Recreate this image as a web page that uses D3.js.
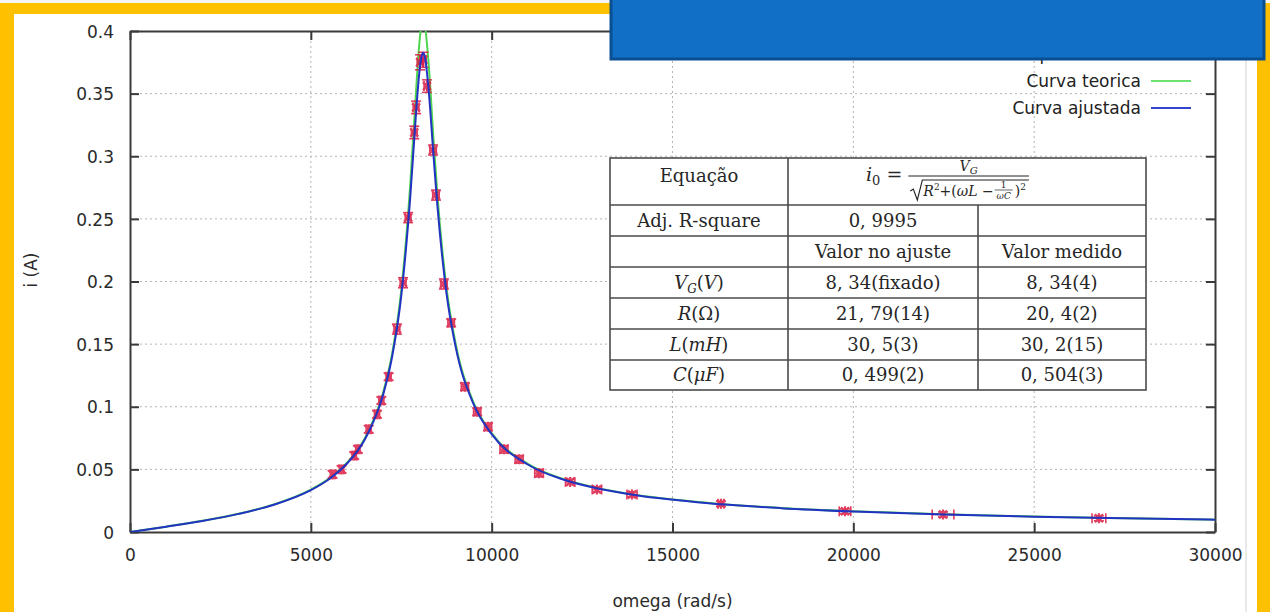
<!DOCTYPE html>
<html>
<head>
<meta charset="utf-8">
<script src="https://cdn.jsdelivr.net/npm/d3@7"></script>
<style>
	body { margin: 0; background: #ffffff; }
	svg { display: block; }
</style>
</head>
<body>
<div id="chart-area"></div>
<script>
// experimental points (omega in rad/s, current in A)
var omegaExp = [5600, 5850, 6200, 6300, 6600, 6830, 6950, 7150, 7380, 7550, 7690, 7860, 7910, 8020, 8110, 8210, 8380, 8460, 8680, 8880, 9260, 9600, 9900, 10340, 10760, 11310, 12170, 12910, 13880, 16340, 19770, 22480, 26790];
var iExp = [0.046, 0.050, 0.061, 0.066, 0.082, 0.094, 0.105, 0.124, 0.162, 0.199, 0.251, 0.319, 0.339, 0.375, 0.377, 0.356, 0.305, 0.269, 0.198, 0.167, 0.116, 0.096, 0.084, 0.066, 0.058, 0.047, 0.040, 0.034, 0.030, 0.0225, 0.0165, 0.014, 0.011];
var omegaErr = [60, 60, 60, 60, 70, 70, 70, 70, 80, 80, 80, 80, 80, 80, 80, 80, 90, 90, 90, 90, 100, 100, 100, 110, 110, 120, 130, 130, 140, 80, 160, 300, 190];
var iErr = [0.003, 0.003, 0.003, 0.003, 0.003, 0.003, 0.003, 0.003, 0.004, 0.004, 0.004, 0.005, 0.005, 0.006, 0.006, 0.005, 0.004, 0.004, 0.004, 0.003, 0.003, 0.003, 0.003, 0.003, 0.003, 0.003, 0.002, 0.002, 0.002, 0.002, 0.002, 0.002, 0.002];

// curves
var omegaCurve = [0, 250, 1000, 2000, 3000, 4000, 5000, 5500, 6000, 6500, 7000, 7250, 7500, 7750, 7900, 8000, 8050, 8100, 8150, 8250, 8400, 8500, 8750, 9000, 9500, 10000, 11000, 12000, 13000, 14000, 16000, 18000, 20000, 22500, 25000, 27500, 30000];
var iTeorica = [0, 0.00105, 0.00427, 0.00895, 0.01461, 0.02219, 0.03382, 0.04262, 0.05527, 0.0753, 0.1115, 0.1428, 0.193, 0.278, 0.348, 0.390, 0.4033, 0.4088, 0.4053, 0.3765, 0.3104, 0.2693, 0.1953, 0.1511, 0.1033, 0.079, 0.05444, 0.04208, 0.03462, 0.0296, 0.02322, 0.01924, 0.01652, 0.0141, 0.01234, 0.011, 0.00993];
var iAjustada = [0, 0.00104, 0.00423, 0.00886, 0.01446, 0.02197, 0.03346, 0.04216, 0.05466, 0.0743, 0.1097, 0.1403, 0.1885, 0.268, 0.3306, 0.367, 0.378, 0.3827, 0.3798, 0.3554, 0.2975, 0.2604, 0.1908, 0.1484, 0.102, 0.0781, 0.0539, 0.04166, 0.03428, 0.0293, 0.02295, 0.01905, 0.01636, 0.01397, 0.01222, 0.01089, 0.00983];

var xTicks = [0, 5000, 10000, 15000, 20000, 25000, 30000];
var yTicks = [0, 0.05, 0.1, 0.15, 0.2, 0.25, 0.3, 0.35, 0.4];
var legendNames = ["Pontos experimentais", "Curva teorica", "Curva ajustada"];

// fit table
var tableHead = ["Equação", "Adj. R-square", ""];
var tableCols = ["", "Valor no ajuste", "Valor medido"];
var tableFit = ["0, 9995"];
var paramNames = [["V", "G", "V"], ["R", "", "Ω"], ["L", "", "mH"], ["C", "", "μF"]];
var paramAjuste = ["8, 34(fixado)", "21, 79(14)", "30, 5(3)", "0, 499(2)"];
var paramMedido = ["8, 34(4)", "20, 4(2)", "30, 2(15)", "0, 504(3)"];

var W = 1270, H = 612;
var margin = {top: 31, right: 55, bottom: 80, left: 130};
var width = 1215 - margin.left;
var height = 532 - margin.top;

var svg = d3.select("#chart-area")
	.append("svg")
		.attr("width", W)
		.attr("height", H)
		.style("font-family", "'DejaVu Sans', sans-serif");

svg.append("rect").attr("width", W).attr("height", H).attr("fill", "#ffffff");
// faint page edge on the right
svg.append("line")
	.attr("x1", 1246).attr("x2", 1246).attr("y1", 14).attr("y2", H)
	.attr("stroke", "#e2e2e2").attr("stroke-width", 1.5);

var g = svg.append("g")
	.attr("transform", "translate(" + margin.left + ", " + margin.top + ")");

var x = d3.scaleLinear().domain([0, 30000]).range([0, width]);
var y = d3.scaleLinear().domain([0, 0.4]).range([height, 0]);

// grid
g.append("g")
	.selectAll("line")
	.data(xTicks.slice(1, -1))
	.enter().append("line")
		.attr("x1", (d) => x(d)).attr("x2", (d) => x(d))
		.attr("y1", 0).attr("y2", height)
		.attr("stroke", "#b4b4b4").attr("stroke-width", 1)
		.attr("stroke-dasharray", "2,3");
g.append("g")
	.selectAll("line")
	.data(yTicks.slice(1, -1))
	.enter().append("line")
		.attr("x1", 0).attr("x2", width)
		.attr("y1", (d) => y(d)).attr("y2", (d) => y(d))
		.attr("stroke", "#b4b4b4").attr("stroke-width", 1)
		.attr("stroke-dasharray", "2,3");

// axes (ticks pointing inward, mirrored)
var bottomAxis = d3.axisBottom(x).tickValues(xTicks).tickFormat(d3.format("d")).tickSizeInner(-9).tickSizeOuter(0).tickPadding(17);
var leftAxis = d3.axisLeft(y).tickValues(yTicks).tickFormat((d) => d === 0 ? "0" : String(+d.toFixed(2))).tickSizeInner(-9).tickSizeOuter(0).tickPadding(16);
var topAxis = d3.axisTop(x).tickValues(xTicks).tickFormat("").tickSizeInner(-9).tickSizeOuter(0);
var rightAxis = d3.axisRight(y).tickValues(yTicks).tickFormat("").tickSizeInner(-9).tickSizeOuter(0);

g.append("g").attr("class", "bottom axis").attr("transform", "translate(0, " + height + ")").call(bottomAxis);
g.append("g").attr("class", "left axis").call(leftAxis);
g.append("g").attr("class", "top axis").call(topAxis);
g.append("g").attr("class", "right axis").attr("transform", "translate(" + width + ", 0)").call(rightAxis);

g.selectAll(".axis path").attr("stroke", "#3a3a3a").attr("stroke-width", 2);
g.selectAll(".axis line").attr("stroke", "#3a3a3a").attr("stroke-width", 2);
g.selectAll(".axis text").attr("font-size", "17px").attr("fill", "#2a2a2a").attr("font-family", "'DejaVu Sans', sans-serif");
g.selectAll(".left.axis text").attr("dy", "0.36em");

// axis labels
g.append("text")
	.attr("x", width / 2)
	.attr("y", height + 75)
	.attr("font-size", "17px")
	.attr("text-anchor", "middle")
	.attr("fill", "#2a2a2a")
	.text("omega (rad/s)");
g.append("text")
	.attr("x", -(270 - margin.top))
	.attr("y", -93)
	.attr("font-size", "17px")
	.attr("text-anchor", "middle")
	.attr("transform", "rotate(-90)")
	.attr("fill", "#2a2a2a")
	.text("i (A)");

// clip for curves
svg.append("clipPath").attr("id", "plotclip")
	.append("rect").attr("x", 0).attr("y", 0).attr("width", width).attr("height", height);

var plot = g.append("g").attr("clip-path", "url(#plotclip)");

var line = d3.line()
	.x((d, i) => x(omegaCurve[i]))
	.y((d) => y(d))
	.curve(d3.curveMonotoneX);

plot.append("path")
	.datum(iTeorica)
	.attr("d", line)
	.attr("fill", "none")
	.attr("stroke", "#4fd64f")
	.attr("stroke-width", 2);

// experimental points with error bars
var pts = plot.selectAll(".pt")
	.data(omegaExp.map((w, i) => ({w: w, i: iExp[i], ew: omegaErr[i], ei: iErr[i]})))
	.enter().append("g")
		.attr("class", "pt")
		.attr("stroke", "#dc1c44")
		.attr("stroke-width", 1.6)
		.attr("opacity", 0.85);

pts.append("line")
	.attr("x1", (d) => x(d.w)).attr("x2", (d) => x(d.w))
	.attr("y1", (d) => y(d.i - d.ei)).attr("y2", (d) => y(d.i + d.ei));
pts.append("line")
	.attr("x1", (d) => x(d.w) - 5).attr("x2", (d) => x(d.w) + 5)
	.attr("y1", (d) => y(d.i - d.ei)).attr("y2", (d) => y(d.i - d.ei));
pts.append("line")
	.attr("x1", (d) => x(d.w) - 5).attr("x2", (d) => x(d.w) + 5)
	.attr("y1", (d) => y(d.i + d.ei)).attr("y2", (d) => y(d.i + d.ei));
pts.append("line")
	.attr("x1", (d) => x(d.w - d.ew)).attr("x2", (d) => x(d.w + d.ew))
	.attr("y1", (d) => y(d.i)).attr("y2", (d) => y(d.i));
pts.append("line")
	.attr("x1", (d) => x(d.w - d.ew)).attr("x2", (d) => x(d.w - d.ew))
	.attr("y1", (d) => y(d.i) - 5).attr("y2", (d) => y(d.i) + 5);
pts.append("line")
	.attr("x1", (d) => x(d.w + d.ew)).attr("x2", (d) => x(d.w + d.ew))
	.attr("y1", (d) => y(d.i) - 5).attr("y2", (d) => y(d.i) + 5);
pts.append("path")
	.attr("d", (d) => {
		var cx = x(d.w), cy = y(d.i), r = 4;
		return "M" + (cx - r) + "," + (cy - r) + "L" + (cx + r) + "," + (cy + r) +
			"M" + (cx - r) + "," + (cy + r) + "L" + (cx + r) + "," + (cy - r) +
			"M" + cx + "," + (cy - r - 1) + "L" + cx + "," + (cy + r + 1);
	})
	.attr("stroke-width", 2.2);

plot.append("path")
	.datum(iAjustada)
	.attr("d", line)
	.attr("fill", "none")
	.attr("stroke", "#2233c4")
	.attr("stroke-width", 2);

// legend
var legend = g.append("g").attr("transform", "translate(" + (1141 - margin.left) + ", " + (54 - margin.top) + ")");
legend.selectAll("text")
	.data(legendNames)
	.enter().append("text")
		.attr("x", 0)
		.attr("y", (d, i) => i * 27)
		.attr("dy", "0.35em")
		.attr("text-anchor", "end")
		.attr("font-size", "17px")
		.attr("fill", "#222")
		.text((d) => d);
legend.append("line").attr("x1", 10).attr("x2", 50).attr("y1", 27).attr("y2", 27).attr("stroke", "#6ee06e").attr("stroke-width", 2);
legend.append("line").attr("x1", 10).attr("x2", 50).attr("y1", 54).attr("y2", 54).attr("stroke", "#3344cc").attr("stroke-width", 2);

// table
var serif = "'DejaVu Serif', 'Liberation Serif', serif";
var tb = svg.append("g").style("font-family", serif).attr("fill", "#262626");
var colX = [610, 788, 978, 1146];
var rowY = [158, 205, 236, 267, 298, 329, 360, 390];
tb.append("rect")
	.attr("x", colX[0]).attr("y", rowY[0])
	.attr("width", colX[3] - colX[0]).attr("height", rowY[7] - rowY[0])
	.attr("fill", "#ffffff").attr("stroke", "#4a4a4a").attr("stroke-width", 1.6);
rowY.slice(1, -1).forEach((ry) => {
	tb.append("line").attr("x1", colX[0]).attr("x2", colX[3]).attr("y1", ry).attr("y2", ry).attr("stroke", "#4a4a4a").attr("stroke-width", 1.6);
});
tb.append("line").attr("x1", colX[1]).attr("x2", colX[1]).attr("y1", rowY[0]).attr("y2", rowY[7]).attr("stroke", "#4a4a4a").attr("stroke-width", 1.6);
tb.append("line").attr("x1", colX[2]).attr("x2", colX[2]).attr("y1", rowY[1]).attr("y2", rowY[7]).attr("stroke", "#4a4a4a").attr("stroke-width", 1.6);

var fs = "18px";
function cell(col, row, txt) {
	return tb.append("text")
		.attr("x", (colX[col] + colX[col + 1]) / 2)
		.attr("y", (rowY[row] + rowY[row + 1]) / 2)
		.attr("dy", "0.35em")
		.attr("text-anchor", "middle")
		.attr("font-size", fs)
		.text(txt);
}
cell(0, 0, tableHead[0]).attr("y", 176);
cell(0, 1, tableHead[1]);
cell(1, 1, tableFit[0]);
cell(1, 2, tableCols[1]);
cell(2, 2, tableCols[2]);
paramNames.forEach((p, k) => {
	var t = cell(0, 3 + k, "");
	t.append("tspan").attr("font-style", "italic").text(p[0]);
	if (p[1]) t.append("tspan").attr("font-style", "italic").attr("font-size", "12px").attr("dy", "4").text(p[1]);
	t.append("tspan").attr("dy", p[1] ? "-4" : null).text("(");
	t.append("tspan").attr("font-style", p[2] === "Ω" ? "normal" : "italic").text(p[2]);
	t.append("tspan").text(")");
	cell(1, 3 + k, paramAjuste[k]);
	cell(2, 3 + k, paramMedido[k]);
});

// equation  i0 = VG / sqrt(R^2 + (wL - 1/(wC))^2)
var eq = tb.append("g");
var eqText = eq.append("text").attr("x", 866).attr("y", 181).attr("font-size", "19px");
eqText.append("tspan").attr("font-style", "italic").text("i");
eqText.append("tspan").attr("font-size", "13px").attr("dy", 4).text("0");
eqText.append("tspan").attr("dy", -4).text(" =");
var x0 = 866 + eqText.node().getComputedTextLength() + 6;

var den = eq.append("text").attr("x", x0 + 15).attr("y", 196).attr("font-size", "14px");
den.append("tspan").attr("font-style", "italic").text("R");
den.append("tspan").attr("font-size", "9px").attr("dy", -6).text("2");
den.append("tspan").attr("dy", 6).text("+(");
den.append("tspan").attr("font-style", "italic").text("ωL");
den.append("tspan").text(" −");
var fx = x0 + 15 + den.node().getComputedTextLength() + 10;
eq.append("text").attr("x", fx).attr("y", 188).attr("text-anchor", "middle").attr("font-size", "9px").text("1");
eq.append("line").attr("x1", fx - 9).attr("x2", fx + 9).attr("y1", 190).attr("y2", 190).attr("stroke", "#222").attr("stroke-width", 0.7);
eq.append("text").attr("x", fx).attr("y", 199).attr("text-anchor", "middle").attr("font-size", "9px").attr("font-style", "italic").text("ωC");
var close = eq.append("text").attr("x", fx + 11).attr("y", 196).attr("font-size", "14px");
close.append("tspan").text(")");
close.append("tspan").attr("font-size", "9px").attr("dy", -6).text("2");
var xEnd = fx + 11 + close.node().getComputedTextLength() + 3;

eq.append("path")
	.attr("d", "M" + (x0 + 2) + ",191 L" + (x0 + 5) + ",189 L" + (x0 + 9) + ",200 L" + (x0 + 14) + ",180 L" + xEnd + ",180")
	.attr("fill", "none").attr("stroke", "#222").attr("stroke-width", 1.1);
eq.append("line").attr("x1", x0).attr("x2", xEnd).attr("y1", 176).attr("y2", 176).attr("stroke", "#222").attr("stroke-width", 1);
var num = eq.append("text").attr("x", (x0 + xEnd) / 2).attr("y", 171).attr("text-anchor", "middle").attr("font-size", "14px");
num.append("tspan").attr("font-style", "italic").text("V");
num.append("tspan").attr("font-style", "italic").attr("font-size", "10px").attr("dy", 3).text("G");

// slide frame and title box
var frame = svg.append("g");
frame.append("rect").attr("x", 0).attr("y", 0).attr("width", 14).attr("height", H).attr("fill", "#ffc000");
frame.append("rect").attr("x", 1257).attr("y", 0).attr("width", 13).attr("height", H).attr("fill", "#ffc000");
frame.append("rect").attr("x", 0).attr("y", 3).attr("width", W).attr("height", 11).attr("fill", "#ffc000");
frame.append("rect").attr("x", 0).attr("y", 0).attr("width", W).attr("height", 3).attr("fill", "#f4f4f4");
frame.append("rect")
	.attr("x", 611).attr("y", -4).attr("width", 653).attr("height", 63)
	.attr("fill", "#116fc6").attr("stroke", "#0b4f93").attr("stroke-width", 3);
</script>
</body>
</html>
